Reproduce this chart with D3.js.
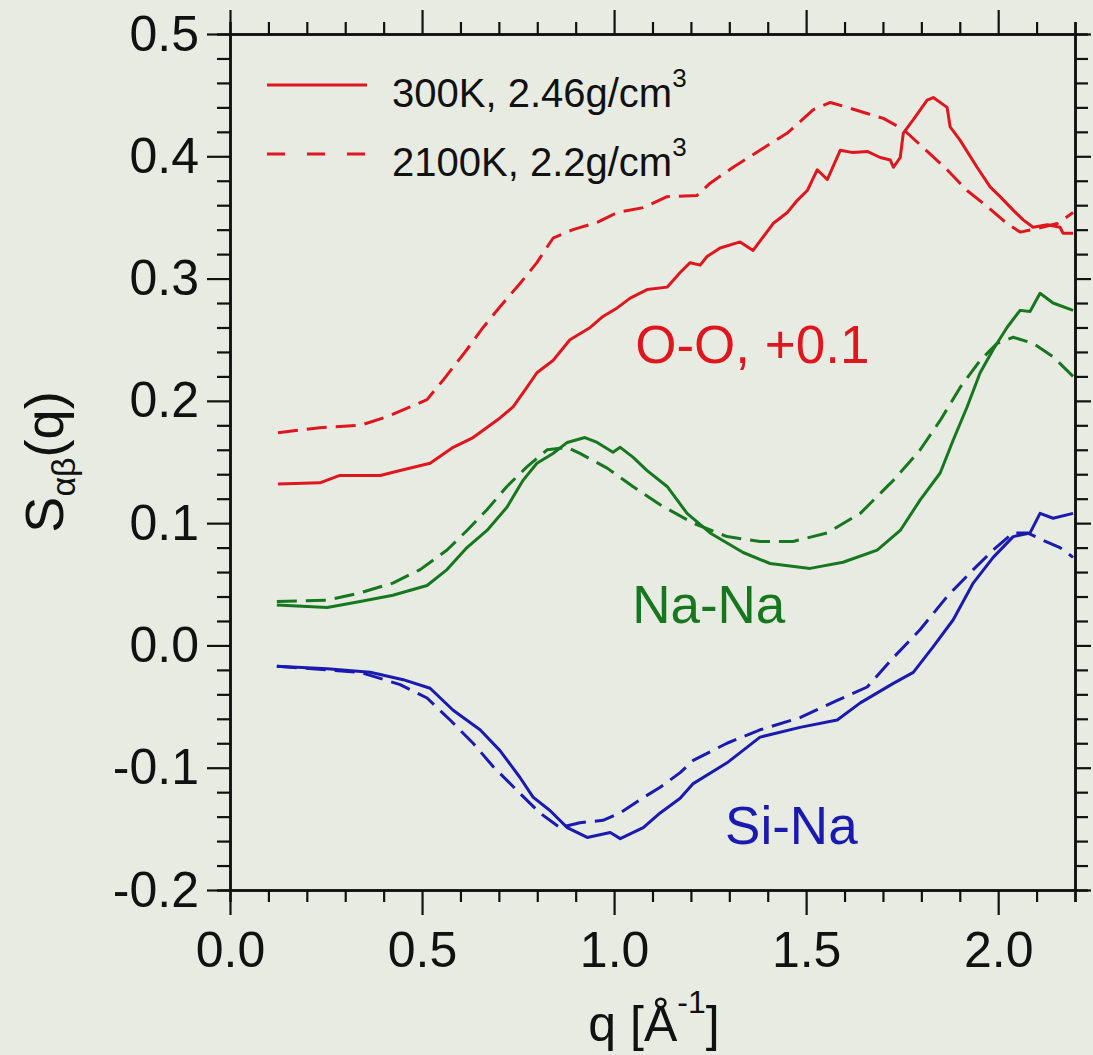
<!DOCTYPE html>
<html>
<head>
<meta charset="utf-8">
<script src="https://cdn.jsdelivr.net/npm/d3@7/dist/d3.min.js"></script>
<style>
  body { margin: 0; background: #e8ebe2; }
  svg { display: block; font-family: 'Liberation Sans', Arial, Helvetica, sans-serif; }
</style>
</head>
<body>
<svg id="svg" width="1093" height="1055"></svg>
<script>
// q values (1/Å) and S(q) values
// O-O curves are stored unshifted, drawn with +0.1
const ooShift = 0.1

const oo300q = [0.125, 0.234, 0.286, 0.391, 0.443, 0.521, 0.581, 0.633, 0.703, 0.737, 0.773, 0.799, 0.841, 0.885, 0.938, 0.971, 1.008, 1.042, 1.086, 1.138, 1.172, 1.198, 1.224, 1.242, 1.276, 1.328, 1.362, 1.414, 1.451, 1.477, 1.503, 1.529, 1.555, 1.589, 1.622, 1.659, 1.693, 1.719, 1.727, 1.745, 1.753, 1.779, 1.815, 1.831, 1.867, 1.875, 1.901, 1.945, 1.979, 2.005, 2.039, 2.065, 2.091, 2.128, 2.161, 2.169, 2.195]
const oo300s = [0.032, 0.033, 0.039, 0.039, 0.043, 0.049, 0.062, 0.070, 0.086, 0.095, 0.111, 0.123, 0.133, 0.150, 0.160, 0.169, 0.176, 0.184, 0.191, 0.193, 0.205, 0.213, 0.211, 0.218, 0.225, 0.230, 0.223, 0.245, 0.254, 0.264, 0.272, 0.289, 0.281, 0.305, 0.303, 0.304, 0.299, 0.297, 0.291, 0.299, 0.319, 0.330, 0.346, 0.348, 0.340, 0.324, 0.313, 0.291, 0.275, 0.267, 0.256, 0.248, 0.242, 0.244, 0.242, 0.237, 0.237]

const oo2100q = [0.125, 0.234, 0.339, 0.409, 0.469, 0.513, 0.555, 0.617, 0.659, 0.703, 0.755, 0.799, 0.826, 0.841, 0.893, 0.956, 1.008, 1.076, 1.138, 1.216, 1.250, 1.310, 1.380, 1.451, 1.518, 1.563, 1.607, 1.659, 1.701, 1.753, 1.805, 1.867, 1.919, 1.971, 2.023, 2.057, 2.102, 2.154, 2.195]
const oo2100s = [0.074, 0.078, 0.080, 0.087, 0.095, 0.101, 0.117, 0.142, 0.160, 0.177, 0.196, 0.213, 0.226, 0.233, 0.240, 0.246, 0.254, 0.258, 0.267, 0.268, 0.278, 0.291, 0.305, 0.319, 0.338, 0.344, 0.340, 0.335, 0.331, 0.322, 0.307, 0.289, 0.272, 0.259, 0.245, 0.238, 0.241, 0.245, 0.254]

const nana300q = [0.122, 0.253, 0.339, 0.424, 0.513, 0.565, 0.617, 0.669, 0.721, 0.763, 0.799, 0.841, 0.878, 0.924, 0.956, 0.997, 1.016, 1.049, 1.086, 1.138, 1.190, 1.250, 1.336, 1.406, 1.510, 1.596, 1.685, 1.745, 1.797, 1.849, 1.883, 1.919, 1.953, 1.987, 2.023, 2.057, 2.083, 2.109, 2.143, 2.195]
const nana300s = [0.033, 0.031, 0.036, 0.041, 0.049, 0.062, 0.080, 0.094, 0.113, 0.135, 0.149, 0.157, 0.166, 0.170, 0.166, 0.158, 0.162, 0.154, 0.143, 0.130, 0.108, 0.092, 0.076, 0.067, 0.063, 0.068, 0.078, 0.094, 0.119, 0.141, 0.168, 0.195, 0.223, 0.242, 0.260, 0.274, 0.273, 0.288, 0.280, 0.274]

const nana2100q = [0.122, 0.253, 0.339, 0.424, 0.495, 0.565, 0.617, 0.669, 0.721, 0.773, 0.826, 0.878, 0.911, 0.982, 1.049, 1.120, 1.206, 1.294, 1.380, 1.466, 1.555, 1.641, 1.727, 1.797, 1.849, 1.901, 1.953, 1.997, 2.039, 2.091, 2.143, 2.195]
const nana2100s = [0.036, 0.037, 0.043, 0.051, 0.062, 0.078, 0.094, 0.111, 0.130, 0.146, 0.160, 0.162, 0.157, 0.145, 0.130, 0.115, 0.100, 0.089, 0.085, 0.085, 0.092, 0.108, 0.135, 0.160, 0.184, 0.211, 0.233, 0.247, 0.252, 0.247, 0.236, 0.220]

const sina300q = [0.122, 0.253, 0.365, 0.451, 0.521, 0.581, 0.651, 0.703, 0.755, 0.789, 0.833, 0.878, 0.930, 0.990, 1.016, 1.076, 1.120, 1.172, 1.206, 1.294, 1.380, 1.484, 1.581, 1.641, 1.727, 1.779, 1.831, 1.883, 1.935, 1.987, 2.039, 2.083, 2.109, 2.143, 2.195]
const sina300s = [-0.017, -0.019, -0.022, -0.028, -0.035, -0.053, -0.069, -0.086, -0.108, -0.124, -0.135, -0.149, -0.157, -0.153, -0.158, -0.149, -0.137, -0.125, -0.113, -0.096, -0.075, -0.067, -0.061, -0.047, -0.031, -0.022, -0.001, 0.021, 0.051, 0.072, 0.089, 0.092, 0.108, 0.104, 0.108]

const sina2100q = [0.122, 0.339, 0.443, 0.513, 0.573, 0.633, 0.685, 0.755, 0.807, 0.859, 0.911, 0.971, 1.016, 1.068, 1.120, 1.172, 1.206, 1.294, 1.380, 1.484, 1.581, 1.659, 1.727, 1.797, 1.867, 1.935, 1.987, 2.039, 2.076, 2.117, 2.161, 2.195]
const sina2100s = [-0.017, -0.022, -0.032, -0.043, -0.061, -0.080, -0.099, -0.121, -0.137, -0.149, -0.145, -0.143, -0.137, -0.126, -0.116, -0.104, -0.094, -0.080, -0.069, -0.059, -0.045, -0.034, -0.010, 0.013, 0.040, 0.062, 0.078, 0.092, 0.092, 0.086, 0.080, 0.072]

const xMajor = [0, 0.5, 1.0, 1.5, 2.0]
const yMajor = [-0.2, -0.1, 0.0, 0.1, 0.2, 0.3, 0.4, 0.5]
const legendLabels = ['300K, 2.46g/cm', '2100K, 2.2g/cm']

const red = '#e0161e', green = '#17771f', blue = '#1a1ab0'

const svg = d3.select('#svg')
const margin = { top: 34, left: 230 }
const innerWidth = 845
const innerHeight = 856

const xScale = d3.scaleLinear().domain([0, 2.2]).range([0, innerWidth])
const yScale = d3.scaleLinear().domain([-0.2, 0.5]).range([innerHeight, 0])

const xMinor = d3.range(0, 23).map(i => i / 10).filter(v => !xMajor.some(m => Math.abs(m - v) < 1e-6))
const yMinor = d3.range(-10, 26).map(i => i / 50).filter(v => !yMajor.some(m => Math.abs(m - v) < 1e-6))

const g = svg.append('g').attr('transform', `translate(${margin.left}, ${margin.top})`)

const fmt = d => d.toFixed(1)

// ticks without labels (minor ticks, top and right frame)
const bare = [
    [d3.axisBottom(xScale).tickValues(xMinor).tickSize(12), `translate(0, ${innerHeight})`],
    [d3.axisTop(xScale).tickValues(xMinor).tickSize(12), null],
    [d3.axisLeft(yScale).tickValues(yMinor).tickSize(13), null],
    [d3.axisRight(yScale).tickValues(yMinor).tickSize(13), `translate(${innerWidth}, 0)`],
    [d3.axisTop(xScale).tickValues(xMajor).tickSize(24).tickSizeOuter(0), null],
    [d3.axisRight(yScale).tickValues(yMajor).tickSize(16).tickSizeOuter(0), `translate(${innerWidth}, 0)`]
]
bare.forEach(([ax, tr]) => {
    const a = g.append('g').attr('transform', tr).call(ax)
    a.selectAll('text').remove()
})

// major ticks with labels
g.append('g').attr('class', 'xaxis').attr('transform', `translate(0, ${innerHeight})`)
    .call(d3.axisBottom(xScale).tickValues(xMajor).tickSize(25).tickSizeOuter(0).tickPadding(16).tickFormat(fmt))
g.append('g').attr('class', 'yaxis')
    .call(d3.axisLeft(yScale).tickValues(yMajor).tickSize(23).tickSizeOuter(0).tickPadding(8).tickFormat(fmt))

g.selectAll('.domain').attr('stroke', '#111').attr('stroke-width', 2.5)
g.selectAll('.tick line').attr('stroke', '#111').attr('stroke-width', 2.2)
g.selectAll('.tick text').attr('font-size', 50).attr('fill', '#111')
    .attr('font-family', "'Liberation Sans', Arial, sans-serif")

// curves
const line = d3.line().x(d => xScale(d[0])).y(d => yScale(d[1]))
const zip = (qs, ss, shift) => qs.map((q, i) => [q, ss[i] + shift])

const curves = [
    { q: oo300q, s: oo300s, shift: ooShift, color: red, dash: null },
    { q: oo2100q, s: oo2100s, shift: ooShift, color: red, dash: '20,9' },
    { q: nana300q, s: nana300s, shift: 0, color: green, dash: null },
    { q: nana2100q, s: nana2100s, shift: 0, color: green, dash: '20,9' },
    { q: sina300q, s: sina300s, shift: 0, color: blue, dash: null },
    { q: sina2100q, s: sina2100s, shift: 0, color: blue, dash: '20,9' }
]

curves.forEach(c => {
    g.append('path')
        .attr('d', line(zip(c.q, c.s, c.shift)))
        .attr('fill', 'none')
        .attr('stroke', c.color)
        .attr('stroke-width', 3)
        .attr('stroke-linejoin', 'round')
        .attr('stroke-dasharray', c.dash)
})

// curve labels
const labels = [
    { text: 'O-O, +0.1', x: 1.055, y: 0.231, color: red },
    { text: 'Na-Na', x: 1.047, y: 0.018, color: green },
    { text: 'Si-Na', x: 1.289, y: -0.162, color: blue }
]
labels.forEach(l => {
    g.append('text').text(l.text)
        .attr('x', xScale(l.x)).attr('y', yScale(l.y))
        .attr('font-size', 53).attr('fill', l.color)
})

// legend
legendLabels.forEach((t, i) => {
    const ly = 51 + i * 69
    g.append('line')
        .attr('x1', 37).attr('x2', 137).attr('y1', ly).attr('y2', ly)
        .attr('stroke', red).attr('stroke-width', 3)
        .attr('stroke-dasharray', i === 1 ? '18,22' : null)
    const txt = g.append('text')
        .attr('x', 162).attr('y', ly + 22)
        .attr('font-size', 40).attr('fill', '#111')
    txt.append('tspan').text(t)
    txt.append('tspan').text('3').attr('font-size', 26).attr('dy', -20)
})

// axis titles
svg.append('text')
    .attr('transform', 'translate(654, 1041)')
    .attr('text-anchor', 'middle')
    .attr('font-size', 50).attr('fill', '#111')
    .call(t => {
        t.append('tspan').text('q [Å')
        t.append('tspan').text('-1').attr('font-size', 32).attr('dy', -28)
        t.append('tspan').text(']').attr('dy', 28)
    })

svg.append('text')
    .attr('transform', 'translate(63, 462) rotate(-90)')
    .attr('text-anchor', 'middle')
    .attr('font-size', 54).attr('fill', '#111')
    .call(t => {
        t.append('tspan').text('S')
        t.append('tspan').text('αβ').attr('font-size', 34).attr('dy', 12)
        t.append('tspan').text('(q)').attr('dy', -12)
    })
</script>
</body>
</html>
